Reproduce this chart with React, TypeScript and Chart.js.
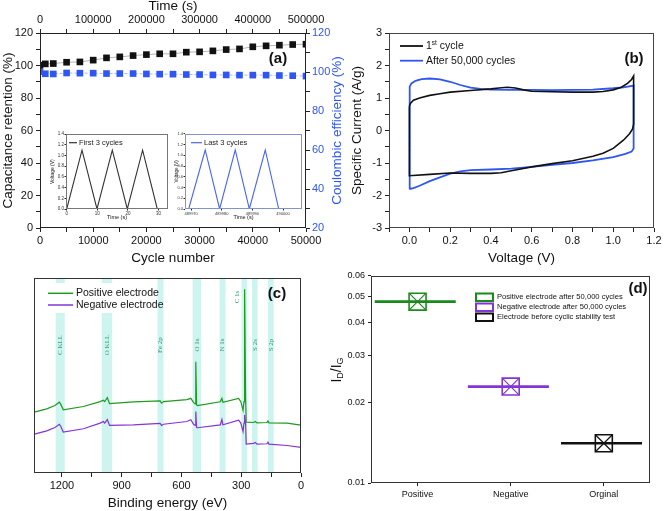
import React, { useEffect, useRef } from "react";
import { Chart, registerables } from "chart.js";

Chart.register(...registerables);

const SANS = "'Liberation Sans', Arial, Helvetica, sans-serif";
const SERIF = "'Liberation Serif', 'Times New Roman', serif";

// ---------------- Panel (a): cycling stability ----------------
const cycleNumbers = [0, 1000, 2500, 5000, 7500, 10000, 12500, 15000, 17500, 20000, 22500, 25000, 27500, 30000, 32500, 35000, 37500, 40000, 42500, 45000, 47500, 50000];
const capacitanceRetention = [100.2, 101.0, 101.2, 102.0, 102.2, 103.3, 104.7, 105.3, 106.1, 106.7, 107.2, 107.2, 108.2, 108.4, 109.0, 109.8, 110.2, 111.5, 112.1, 112.5, 112.9, 113.1];
const coulombicEfficiency = [100.2, 99.1, 99.0, 99.5, 99.4, 99.4, 99.2, 99.2, 99.2, 99.0, 98.9, 98.9, 98.7, 98.7, 98.5, 98.5, 98.4, 98.4, 98.4, 98.2, 98.1, 97.9];
const firstCyclesTime = [0, 5.0, 9.9, 14.9, 19.8, 24.8, 29.6];
const firstCyclesVoltage = [0, 1.1, 0, 1.1, 0, 1.1, 0];
const firstCyclesTicks = [0, 10, 20, 30];
const lastCyclesTime = [489969.2, 489974.6, 489979.3, 489984.4, 489989.0, 489994.2, 489998.6];
const lastCyclesVoltage = [0, 1.1, 0, 1.1, 0, 1.1, 0];
const lastCyclesTicks = [489970, 489980, 489990, 490000];
const insetVoltageTicks = [0, 0.2, 0.4, 0.6, 0.8, 1.0, 1.2, 1.4];

// ---------------- Panel (b): CV curves ----------------
const cv1Voltage = [0.0, 0.005, 0.02, 0.05, 0.1, 0.15, 0.2, 0.3, 0.4, 0.44, 0.48, 0.52, 0.56, 0.6, 0.7, 0.8, 0.9, 0.95, 1.0, 1.04, 1.07, 1.09, 1.1, 1.1, 1.095, 1.08, 1.05, 1.0, 0.95, 0.9, 0.8, 0.7, 0.6, 0.5, 0.45, 0.4, 0.3, 0.2, 0.1, 0.0, 0.0];
const cv1Current = [0.75, 0.83, 0.93, 1.0, 1.08, 1.13, 1.18, 1.23, 1.28, 1.31, 1.33, 1.31, 1.25, 1.21, 1.19, 1.18, 1.18, 1.2, 1.25, 1.33, 1.45, 1.57, 1.68, 0.2, 0.05, -0.1, -0.3, -0.55, -0.7, -0.79, -0.93, -1.02, -1.12, -1.24, -1.3, -1.32, -1.32, -1.31, -1.35, -1.39, 0.75];
const cv2Voltage = [0.0, 0.0, 0.003, 0.01, 0.03, 0.06, 0.1, 0.15, 0.2, 0.25, 0.3, 0.35, 0.4, 0.5, 0.6, 0.7, 0.8, 0.9, 1.0, 1.05, 1.1, 1.1, 1.09, 1.06, 1.0, 0.9, 0.8, 0.7, 0.6, 0.5, 0.4, 0.3, 0.25, 0.2, 0.15, 0.1, 0.05, 0.02, 0.0];
const cv2Current = [-1.8, 1.1, 1.35, 1.45, 1.53, 1.58, 1.6, 1.57, 1.5, 1.4, 1.32, 1.28, 1.26, 1.25, 1.25, 1.24, 1.25, 1.26, 1.3, 1.33, 1.38, -0.55, -0.65, -0.72, -0.82, -0.92, -1.0, -1.06, -1.12, -1.17, -1.2, -1.22, -1.26, -1.33, -1.44, -1.56, -1.7, -1.77, -1.8];

// ---------------- Panel (c): XPS survey ----------------
const bindingEnergy = [1338, 1276, 1235, 1213, 1206, 1193, 1092, 1008, 992, 985, 972, 961, 841, 707, 700, 690, 573, 553, 539, 531, 528, 524, 519, 405, 397, 392, 313, 302, 291, 286, 283, 278, 275, 238, 229, 221, 171, 166, 161, 70, 0];
const positiveIntensity = [31.2, 32.9, 34.6, 36.3, 35.3, 32.4, 34.1, 36.6, 37.3, 36.6, 38.7, 35.6, 36.5, 37.0, 35.8, 36.6, 37.6, 38.3, 36.1, 35.4, 57.1, 34.9, 34.6, 36.5, 38.3, 36.3, 38.3, 36.6, 32.2, 36.6, 94.2, 38.3, 26.1, 25.9, 26.4, 25.7, 25.9, 26.7, 25.7, 25.6, 24.5];
const negativeIntensity = [19.9, 21.6, 23.3, 25.0, 24.0, 21.0, 22.7, 25.6, 26.4, 25.6, 27.4, 24.4, 24.7, 25.4, 24.4, 25.0, 26.4, 27.3, 25.0, 24.4, 31.5, 23.3, 23.2, 24.7, 27.4, 24.7, 27.1, 25.6, 21.3, 25.6, 29.8, 25.6, 14.8, 15.2, 15.7, 14.8, 15.0, 15.8, 14.8, 14.1, 13.1];
const bindingEnergyTicks = [0, 300, 600, 900, 1200];
const peakLabels = ["C KLL", "O KLL", "Fe 2p", "O 1s", "N 1s", "C 1s", "S 2s", "S 2p"];
const peakBandHigh = [1231, 1000, 720, 544, 409, 298, 246, 166];
const peakBandLow = [1186, 948, 690, 502, 379, 271, 218, 137];

// ---------------- Panel (d): ID/IG ----------------
const samples = ["Positive", "Negative", "Orginal"];
const idIgRatio = [0.0479, 0.023, 0.0141];
const sampleLegend = ["Positive electrode after 50,000 cycles", "Negative electrode after 50,000 cycles", "Electrode before cyclic stability test"];
const idIgTicks = [0.01, 0.02, 0.03, 0.04, 0.05, 0.06];

// ---------------- styling ----------------
const GREEN = "#1f9a1f";
const PURPLE = "#8434d4";
const BLUE = "#2f55f2";
const DGREEN = "#1a8a1a";
const BAND = "rgba(188, 240, 232, 0.75)";
const LABEL_TEAL = "#3a9c78";

const pts = (xs: number[], ys: number[]) => xs.map((x, i) => ({ x, y: ys[i] }));

type AxisOpts = {
  position: string; min: number; max: number; step?: number; type?: string;
  label?: (v: number) => string; title?: string; titleSize?: number; tickSize?: number;
  color?: string; tickLen?: number; pad?: number; fit: number; reverse?: boolean; display?: boolean;
  titleColor?: string; fixedTicks?: number[];
};

function makeAxis(o: AxisOpts) {
  const horizontal = o.position === "top" || o.position === "bottom";
  const ax: any = {
    type: o.type ?? "linear",
    position: o.position,
    display: o.display ?? true,
    min: o.min,
    max: o.max,
    reverse: !!o.reverse,
    afterFit: (s: any) => {
      if (horizontal) s.height = o.fit;
      else s.width = o.fit;
    },
    grid: { drawOnChartArea: false, drawTicks: true, tickLength: o.tickLen ?? 4, color: "#222", lineWidth: 1 },
    border: { display: false },
    ticks: {
      stepSize: o.step,
      autoSkip: false,
      maxRotation: 0,
      minRotation: 0,
      padding: o.pad ?? 2,
      color: o.color ?? "#111",
      font: { family: SANS, size: o.tickSize ?? 11 },
      callback: (v: any) => (o.label ? o.label(Number(v)) : String(v)),
    },
    title: {
      display: !!o.title,
      text: o.title ?? "",
      color: o.titleColor ?? "#111",
      font: { family: SANS, size: o.titleSize ?? 13.5 },
      padding: 0,
    },
  };
  if (o.fixedTicks) {
    const vals = o.fixedTicks;
    ax.afterBuildTicks = (s: any) => {
      s.ticks = vals.map((v) => ({ value: v }));
    };
  }
  return ax;
}

type Ctx = CanvasRenderingContext2D;

function text(ctx: Ctx, s: string, x: number, y: number, font: string, color: string, align: CanvasTextAlign = "left", rot = 0) {
  ctx.save();
  ctx.translate(x, y);
  if (rot) ctx.rotate(rot);
  ctx.font = font;
  ctx.fillStyle = color;
  ctx.textAlign = align;
  ctx.textBaseline = "middle";
  ctx.fillText(s, 0, 0);
  ctx.restore();
}

function rich(ctx: Ctx, parts: { t: string; font: string; dy?: number }[], x: number, y: number, color: string, align: "left" | "center", rot = 0) {
  ctx.save();
  ctx.translate(x, y);
  if (rot) ctx.rotate(rot);
  ctx.fillStyle = color;
  ctx.textBaseline = "middle";
  ctx.textAlign = "left";
  let total = 0;
  for (const p of parts) {
    ctx.font = p.font;
    total += ctx.measureText(p.t).width;
  }
  let cx = align === "center" ? -total / 2 : 0;
  for (const p of parts) {
    ctx.font = p.font;
    ctx.fillText(p.t, cx, p.dy ?? 0);
    cx += ctx.measureText(p.t).width;
  }
  ctx.restore();
}

function line(ctx: Ctx, x1: number, y1: number, x2: number, y2: number, color: string, w: number) {
  ctx.save();
  ctx.strokeStyle = color;
  ctx.lineWidth = w;
  ctx.beginPath();
  ctx.moveTo(x1, y1);
  ctx.lineTo(x2, y2);
  ctx.stroke();
  ctx.restore();
}

type Draw = (ctx: Ctx, chart: any, left: number, top: number) => void;

function overlayPlugin(left: number, top: number, frameColor: string | null, after?: Draw, before?: Draw) {
  return {
    id: "overlay",
    beforeDatasetsDraw(chart: any) {
      if (!before) return;
      const ctx = chart.ctx;
      ctx.save();
      ctx.translate(-left, -top);
      before(ctx, chart, left, top);
      ctx.restore();
    },
    afterDatasetsDraw(chart: any) {
      if (!frameColor) return;
      const { ctx, chartArea: a } = chart;
      const L = Math.round(a.left), R = Math.round(a.right), T = Math.round(a.top), B = Math.round(a.bottom);
      ctx.save();
      ctx.strokeStyle = frameColor;
      ctx.lineWidth = 1;
      ctx.strokeRect(L + 0.5, T + 0.5, R - L - 1, B - T - 1);
      ctx.restore();
    },
    afterDraw(chart: any) {
      if (!after) return;
      const ctx = chart.ctx;
      ctx.save();
      ctx.translate(-left, -top);
      after(ctx, chart, left, top);
      ctx.restore();
    },
  };
}

const baseOptions = {
  responsive: false,
  maintainAspectRatio: false,
  animation: false,
  events: [],
  plugins: { legend: { display: false }, tooltip: { enabled: false }, title: { display: false } },
};

// ---------------- builders ----------------
function buildA(left: number, top: number) {
  return {
    type: "line",
    data: {
      datasets: [
        {
          data: pts(cycleNumbers, capacitanceRetention), xAxisID: "x", yAxisID: "y",
          borderColor: "#b5b5b5", borderWidth: 1, pointStyle: "rect", pointRadius: 4.7,
          pointBackgroundColor: "#111", pointBorderColor: "#111", pointBorderWidth: 0,
        },
        {
          data: pts(cycleNumbers, coulombicEfficiency), xAxisID: "x", yAxisID: "y1",
          borderColor: "#a8b6ff", borderWidth: 1, borderDash: [3, 2], pointStyle: "rect", pointRadius: 4.7,
          pointBackgroundColor: BLUE, pointBorderColor: BLUE, pointBorderWidth: 0,
        },
      ],
    },
    options: {
      ...baseOptions,
      layout: { padding: 0 },
      scales: {
        x: makeAxis({ position: "bottom", min: 0, max: 50000, step: 5000, fit: 38, pad: 2, title: "Cycle number", label: (v) => (v % 10000 === 0 ? String(v) : "") }),
        x2: makeAxis({ position: "top", min: 0, max: 500000, step: 50000, fit: 35, pad: 2, title: "Time (s)", label: (v) => (v % 100000 === 0 ? String(v) : "") }),
        y: makeAxis({ position: "left", min: 0, max: 120, step: 10, fit: 40, pad: 3, title: "Capacitance retention (%)", label: (v) => (v % 20 === 0 ? String(v) : "") }),
        y1: makeAxis({ position: "right", min: 20, max: 120, step: 10, fit: 40, pad: 2, color: BLUE, label: (v) => (v % 20 === 0 ? String(v) : "") }),
      },
    },
    plugins: [
      overlayPlugin(left, top, "#222", (ctx) => {
        text(ctx, "Coulombic efficiency (%)", 337, 130.5, `13.5px ${SANS}`, BLUE, "center", -Math.PI / 2);
        text(ctx, "(a)", 278, 59, `bold 15px ${SANS}`, "#111", "center");
      }),
    ],
  };
}

function buildInset(
  times: number[], volts: number[], xTicks: number[], min: number, max: number, color: string, frame: string,
  legend: string, legendX1: number, legendX2: number, tickSize: number, titleSize: number, yFit: number,
) {
  return (left: number, top: number) => ({
    type: "line",
    data: {
      datasets: [{ data: pts(times, volts), borderColor: color, borderWidth: 1.1, pointRadius: 0 }],
    },
    options: {
      ...baseOptions,
      layout: { padding: { top: 2, right: 4 } },
      scales: {
        x: makeAxis({ position: "bottom", min, max, fit: 12, tickLen: 1.5, pad: 0.5, tickSize, titleSize: 5.5, title: "Time (s)", color: "#333", fixedTicks: xTicks, label: (v) => String(v) }),
        y: makeAxis({ position: "left", min: 0, max: 1.4, fit: yFit, tickLen: 1.5, pad: 0.5, tickSize, titleSize, title: "Voltage (V)", color: "#333", fixedTicks: insetVoltageTicks, label: (v) => v.toFixed(1) }),
      },
    },
    plugins: [
      overlayPlugin(left, top, frame, (ctx) => {
        line(ctx, legendX1, 142.7, legendX2, 142.7, color, 1.2);
        text(ctx, legend, legendX2 + 2, 142.7, `7.5px ${SANS}`, "#222", "left");
      }),
    ],
  });
}

const buildInset1 = buildInset(firstCyclesTime, firstCyclesVoltage, firstCyclesTicks, -0.23, 33.1, "#333", "#777", "First 3 cycles", 69, 77, 4.5, 5, 16);
const buildInset2 = buildInset(lastCyclesTime, lastCyclesVoltage, lastCyclesTicks, 489968.0, 490006.2, "#4a66ee", "#8294d0", "Last 3 cycles", 191, 202, 4, 4.5, 11);

function buildB(left: number, top: number) {
  return {
    type: "line",
    data: {
      datasets: [
        { data: pts(cv1Voltage, cv1Current), borderColor: "#111", borderWidth: 1.6, pointRadius: 0, tension: 0 },
        { data: pts(cv2Voltage, cv2Current), borderColor: BLUE, borderWidth: 1.8, pointRadius: 0, tension: 0 },
      ],
    },
    options: {
      ...baseOptions,
      layout: { padding: { top: 35, right: 10 } },
      scales: {
        x: makeAxis({ position: "bottom", min: -0.1, max: 1.2, step: 0.1, fit: 38, pad: 2, title: "Voltage (V)", label: (v) => (Math.abs(Math.round(v * 10)) % 2 === 0 ? v.toFixed(1) : "") }),
        y: makeAxis({ position: "left", min: -3, max: 3, step: 0.5, fit: 40, pad: 3, title: "Specific Current (A/g)", label: (v) => (Number.isInteger(v) ? String(v) : "") }),
      },
    },
    plugins: [
      overlayPlugin(left, top, "#444", (ctx) => {
        line(ctx, 400, 46, 423, 46, "#111", 1.8);
        rich(ctx, [
          { t: "1", font: `10.5px ${SANS}` },
          { t: "st", font: `6.5px ${SANS}`, dy: -3.5 },
          { t: " cycle", font: `10.5px ${SANS}` },
        ], 426, 46.5, "#111", "left");
        line(ctx, 400, 60.7, 423, 60.7, BLUE, 1.8);
        text(ctx, "After 50,000 cycles", 426, 61, `10.5px ${SANS}`, "#111", "left");
        text(ctx, "(b)", 634, 59, `bold 15px ${SANS}`, "#111", "center");
      }),
    ],
  };
}

function buildC(left: number, top: number) {
  const tickVals: number[] = [];
  for (let v = 0; v <= 1200; v += 150) tickVals.push(v);
  return {
    type: "line",
    data: {
      datasets: [
        { data: pts(bindingEnergy, positiveIntensity), borderColor: GREEN, borderWidth: 1.2, pointRadius: 0, tension: 0 },
        { data: pts(bindingEnergy, negativeIntensity), borderColor: PURPLE, borderWidth: 1.2, pointRadius: 0, tension: 0 },
      ],
    },
    options: {
      ...baseOptions,
      layout: { padding: { left: 34, top: 16, right: 19 } },
      scales: {
        x: makeAxis({ position: "bottom", min: 0, max: 1340, reverse: true, fit: 38, pad: 2, title: "Binding energy (eV)", fixedTicks: tickVals, label: (v) => (bindingEnergyTicks.includes(v) ? String(v) : "") }),
        y: makeAxis({ position: "left", min: 0, max: 100, fit: 0, display: false }),
      },
    },
    plugins: [
      overlayPlugin(
        left, top, "#333",
        (ctx) => {
          text(ctx, "(c)", 277, 294, `bold 15px ${SANS}`, "#111", "center");
        },
        (ctx, chart, l, t) => {
          const xs = chart.scales.x;
          const a = chart.chartArea;
          ctx.fillStyle = BAND;
          peakLabels.forEach((_, i) => {
            const x1 = xs.getPixelForValue(peakBandHigh[i]) + l;
            const x2 = xs.getPixelForValue(peakBandLow[i]) + l;
            ctx.fillRect(x1, a.top + t, x2 - x1, a.bottom - a.top);
          });
          // legend background
          ctx.fillStyle = "#ffffff";
          ctx.fillRect(44, 283, 108, 30);
          line(ctx, 48, 293.3, 73, 293.3, GREEN, 1.5);
          text(ctx, "Positive electrode", 76, 293.5, `10.5px ${SANS}`, "#111", "left");
          line(ctx, 48, 305, 73, 305, PURPLE, 1.5);
          text(ctx, "Negative electrode", 76, 305.5, `10.5px ${SANS}`, "#111", "left");
          peakLabels.forEach((lab, i) => {
            const cx = (xs.getPixelForValue(peakBandHigh[i]) + xs.getPixelForValue(peakBandLow[i])) / 2 + l;
            const isC1s = lab === "C 1s";
            text(ctx, lab, cx + (isC1s ? -7 : 0), isC1s ? 297 : 345, `7px ${SERIF}`, LABEL_TEAL, "center", -Math.PI / 2);
          });
        },
      ),
    ],
  };
}

function buildD(left: number, top: number) {
  const colors = [DGREEN, PURPLE, "#111"];
  const datasets: any[] = [];
  samples.forEach((_, i) => {
    const c = colors[i];
    const v = idIgRatio[i];
    datasets.push({ data: [{ x: i + 0.5 - 0.46, y: v }, { x: i + 0.5 + 0.41, y: v }], borderColor: c, borderWidth: 2.6, pointRadius: 0 });
    datasets.push({ data: [{ x: i + 0.5, y: v }], showLine: false, pointStyle: "rect", pointRadius: 12, pointBorderColor: c, pointBackgroundColor: "rgba(0,0,0,0)", pointBorderWidth: 1.6 });
    datasets.push({ data: [{ x: i + 0.5, y: v }], showLine: false, pointStyle: "crossRot", pointRadius: 12, pointBorderColor: c, pointBackgroundColor: "rgba(0,0,0,0)", pointBorderWidth: 1.2 });
  });
  return {
    type: "line",
    data: { datasets },
    options: {
      ...baseOptions,
      layout: { padding: { top: 10, right: 9 } },
      scales: {
        x: makeAxis({ position: "bottom", min: 0, max: 3, fit: 28, pad: 3, tickSize: 9, tickLen: 3, fixedTicks: [0.5, 1.5, 2.5], label: (v) => samples[Math.floor(v)] ?? "" }),
        y: makeAxis({ position: "left", type: "logarithmic", min: 0.01, max: 0.06, fit: 45, pad: 3, tickSize: 9, tickLen: 3, fixedTicks: idIgTicks, label: (v) => v.toFixed(2) }),
      },
    },
    plugins: [
      overlayPlugin(left, top, "#333", (ctx) => {
        rich(ctx, [
          { t: "I", font: `14px ${SANS}` },
          { t: "D", font: `9px ${SANS}`, dy: 4 },
          { t: "/I", font: `14px ${SANS}` },
          { t: "G", font: `9px ${SANS}`, dy: 4 },
        ], 337, 370, "#111", "center", -Math.PI / 2);
        const rows = [297, 307, 317];
        sampleLegend.forEach((lab, i) => {
          ctx.save();
          ctx.strokeStyle = colors[i];
          ctx.lineWidth = 2;
          ctx.strokeRect(476, rows[i] - 3.5, 17, 7.5);
          ctx.restore();
          text(ctx, lab, 497, rows[i] + 0.3, `7.6px ${SANS}`, "#111", "left");
        });
        text(ctx, "(d)", 638, 289, `bold 15px ${SANS}`, "#111", "center");
      }),
    ],
  };
}

function Panel({ left, top, width, height, build }: { left: number; top: number; width: number; height: number; build: (l: number, t: number) => any }) {
  const ref = useRef<HTMLCanvasElement | null>(null);
  useEffect(() => {
    if (!ref.current) return;
    const chart = new Chart(ref.current, build(left, top));
    return () => chart.destroy();
  }, [left, top, width, height, build]);
  return (
    <canvas
      ref={ref}
      width={width}
      height={height}
      style={{ position: "absolute", left, top, width, height, display: "block" }}
    />
  );
}

export default function App() {
  return (
    <div style={{ position: "fixed", left: 0, top: 0, width: 664, height: 511, background: "#fff", overflow: "hidden" }}>
      <Panel left={0} top={-2} width={346} height={268} build={buildA} />
      <Panel left={50} top={131} width={122} height={90} build={buildInset1} />
      <Panel left={174} top={131} width={132} height={90} build={buildInset2} />
      <Panel left={349} top={-2} width={315} height={268} build={buildB} />
      <Panel left={0} top={262} width={320} height={249} build={buildC} />
      <Panel left={326} top={262} width={338} height={249} build={buildD} />
    </div>
  );
}
